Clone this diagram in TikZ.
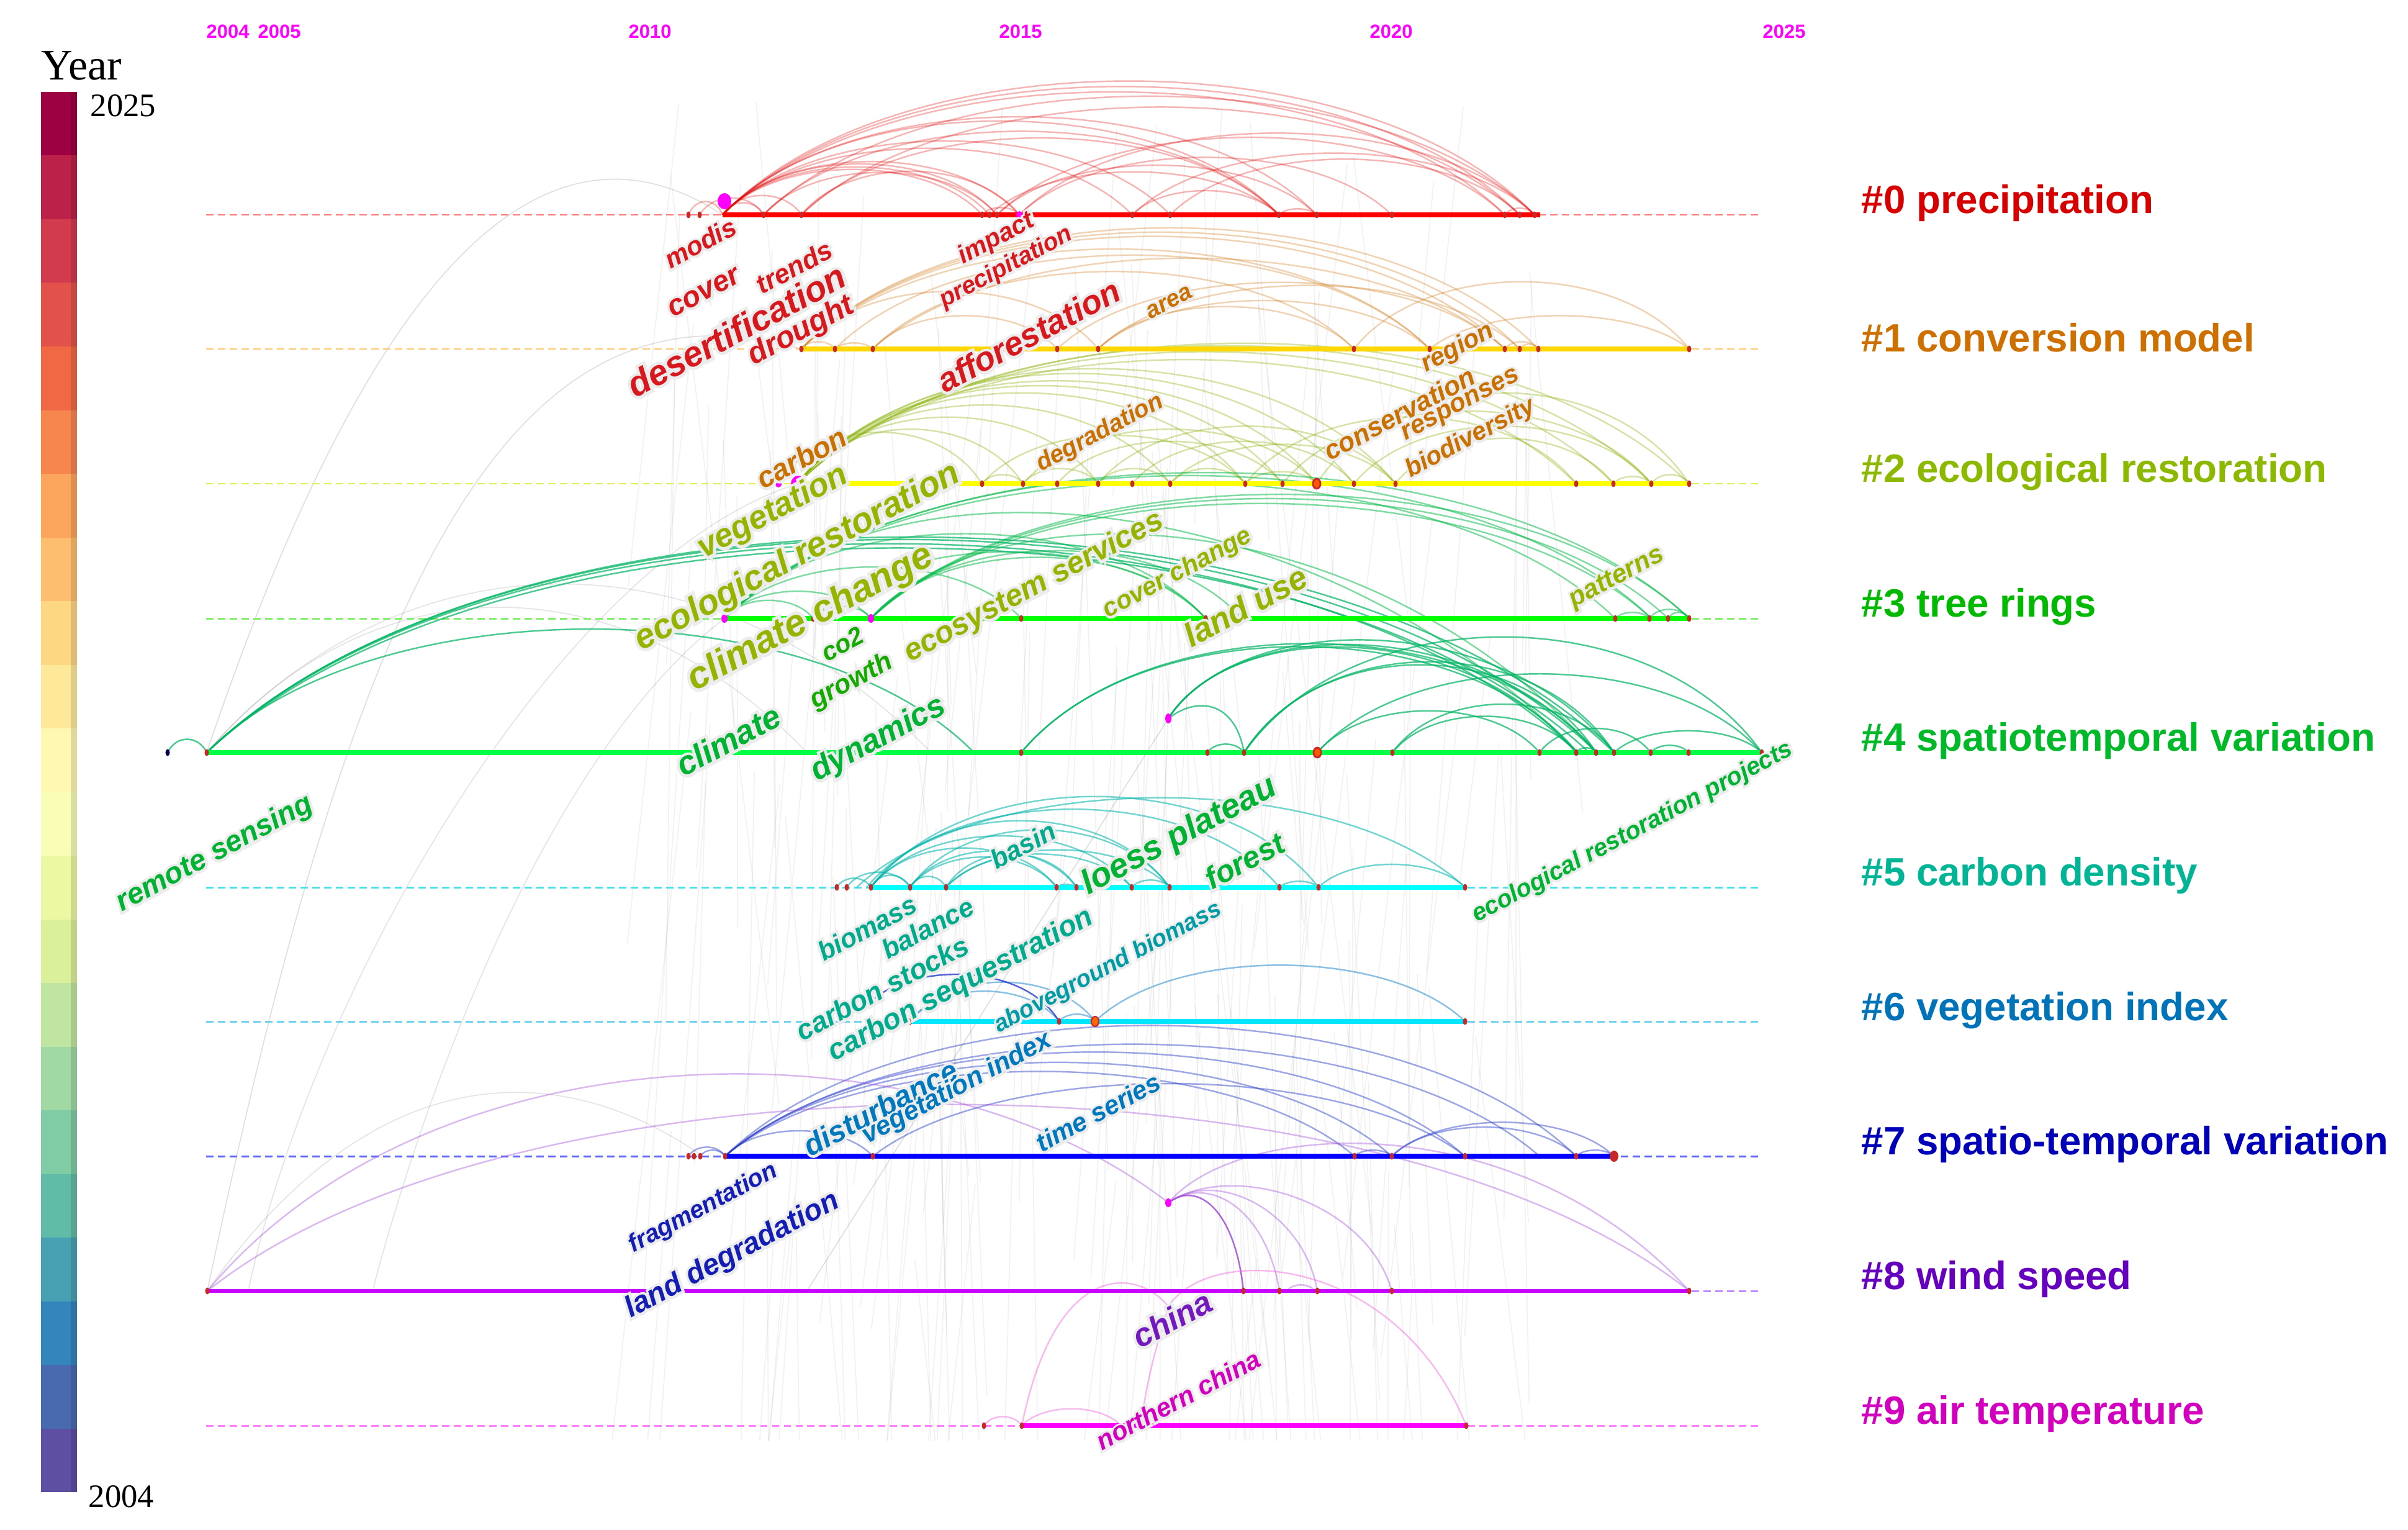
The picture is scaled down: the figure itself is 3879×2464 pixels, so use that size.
\documentclass[tikz,border=0pt]{standalone}
\usepackage{fontspec}
\setmainfont{Liberation Sans}
\newfontfamily\tnr{Liberation Serif}
\newfontfamily\halofam{Liberation Sans}[FakeBold=18]
\definecolor{halo}{RGB}{236,236,236}
\definecolor{kw0}{RGB}{215,25,30}
\definecolor{kw1}{RGB}{200,112,0}
\definecolor{kw2}{RGB}{148,180,0}
\definecolor{kw3}{RGB}{20,170,0}
\definecolor{kw4}{RGB}{0,178,50}
\definecolor{kw5}{RGB}{0,170,140}
\definecolor{kw5b}{RGB}{0,155,165}
\definecolor{kw6}{RGB}{0,120,190}
\definecolor{kw7}{RGB}{20,30,180}
\definecolor{kw8}{RGB}{115,25,190}
\definecolor{kw9}{RGB}{210,0,190}
\definecolor{cl0}{RGB}{215,0,0}
\definecolor{cl1}{RGB}{205,112,0}
\definecolor{cl2}{RGB}{140,185,0}
\definecolor{cl3}{RGB}{0,185,0}
\definecolor{cl4}{RGB}{0,185,40}
\definecolor{cl5}{RGB}{0,180,150}
\definecolor{cl6}{RGB}{0,115,185}
\definecolor{cl7}{RGB}{0,0,185}
\definecolor{cl8}{RGB}{100,0,190}
\definecolor{cl9}{RGB}{210,0,190}
\definecolor{ln0}{RGB}{255,0,0}
\definecolor{ln1}{RGB}{255,215,0}
\definecolor{ln2}{RGB}{255,255,0}
\definecolor{ln3}{RGB}{0,255,0}
\definecolor{ln4}{RGB}{0,255,70}
\definecolor{ln5}{RGB}{0,255,255}
\definecolor{ln6}{RGB}{0,230,255}
\definecolor{ln7}{RGB}{0,0,255}
\definecolor{ln8}{RGB}{200,0,255}
\definecolor{ln9}{RGB}{255,0,255}
\definecolor{ds0}{RGB}{255,120,120}
\definecolor{ds1}{RGB}{255,200,110}
\definecolor{ds2}{RGB}{225,240,90}
\definecolor{ds3}{RGB}{130,240,110}
\definecolor{ds4}{RGB}{110,240,150}
\definecolor{ds5}{RGB}{70,225,235}
\definecolor{ds6}{RGB}{110,210,240}
\definecolor{ds7}{RGB}{90,100,255}
\definecolor{ds8}{RGB}{190,140,255}
\definecolor{ds9}{RGB}{255,130,255}
\definecolor{ar0}{RGB}{225,10,10}
\definecolor{ar1}{RGB}{210,130,40}
\definecolor{ar2}{RGB}{135,175,0}
\definecolor{ar3}{RGB}{0,185,70}
\definecolor{ar4}{RGB}{0,180,100}
\definecolor{ar5}{RGB}{0,180,170}
\definecolor{ar6}{RGB}{60,150,210}
\definecolor{ar7}{RGB}{40,60,200}
\definecolor{ar8}{RGB}{160,80,215}
\definecolor{ar9}{RGB}{240,100,220}
\definecolor{yearmag}{RGB}{255,0,255}
\definecolor{dotred}{RGB}{200,40,40}
\definecolor{cb0}{RGB}{94,79,162}
\definecolor{cb1}{RGB}{73,106,175}
\definecolor{cb2}{RGB}{52,133,188}
\definecolor{cb3}{RGB}{72,161,179}
\definecolor{cb4}{RGB}{97,188,167}
\definecolor{cb5}{RGB}{128,204,165}
\definecolor{cb6}{RGB}{161,217,164}
\definecolor{cb7}{RGB}{191,229,160}
\definecolor{cb8}{RGB}{219,240,154}
\definecolor{cb9}{RGB}{237,248,163}
\definecolor{cb10}{RGB}{249,253,182}
\definecolor{cb11}{RGB}{255,248,179}
\definecolor{cb12}{RGB}{254,233,154}
\definecolor{cb13}{RGB}{254,215,131}
\definecolor{cb14}{RGB}{253,191,111}
\definecolor{cb15}{RGB}{252,165,93}
\definecolor{cb16}{RGB}{247,134,78}
\definecolor{cb17}{RGB}{241,105,68}
\definecolor{cb18}{RGB}{226,82,74}
\definecolor{cb19}{RGB}{210,59,78}
\definecolor{cb20}{RGB}{187,33,73}
\definecolor{cb21}{RGB}{158,1,66}

\newcommand\halo[1]{\leavevmode\rlap{\halofam\textcolor{halo}{#1}}#1}
\newcommand\kw[6]{\node[kwn, text=#5, font=\bfseries\itshape\fontsize{#4}{#4}\selectfont] (#1) at (#2,#3) {\halo{#6}};}
\newcommand\tlarcs[3]{%
  \foreach \a/\b/\h in {#3}{%
    \pgfmathsetmacro\ca{\a+0.21*(\b-\a)}%
    \pgfmathsetmacro\cb{\b-0.21*(\b-\a)}%
    \pgfmathsetmacro\ch{#1-1.3*\h}%
    \draw[#2] (\a,#1) .. controls (\ca,\ch) and (\cb,\ch) .. (\b,#1);
  }}
\newcommand\tldots[2]{\foreach \x in {#2}{\fill[dotred] (\x,#1) ellipse (3.5 and 5.5);}}

\tikzset{
 bgl/.style={draw=black, opacity=0.05, line width=0.5pt},
 dashln/.style={line width=0.85pt, dash pattern=on 3.4pt off 2pt},
 tl/.style={line width=2.3pt},
 arc0/.style={draw=ar0, opacity=0.3, line width=0.7pt},
 arc1/.style={draw=ar1, opacity=0.35, line width=0.7pt},
 arc2/.style={draw=ar2, opacity=0.35, line width=0.7pt},
 arc3/.style={draw=ar3, opacity=0.5, line width=0.7pt},
 arc4/.style={draw=ar4, opacity=0.7, line width=0.7pt},
 arc5/.style={draw=ar5, opacity=0.55, line width=0.7pt},
 arc6/.style={draw=ar6, opacity=0.6, line width=0.7pt},
 arc7/.style={draw=ar7, opacity=0.45, line width=0.7pt},
 arc8/.style={draw=ar8, opacity=0.4, line width=0.7pt},
 arc9/.style={draw=ar9, opacity=0.45, line width=0.7pt},
 kwn/.style={rotate=28, inner sep=0pt, anchor=center},
 clab/.style={anchor=west, inner sep=0pt, font=\bfseries\fontsize{18.1}{20}\selectfont},
 yr/.style={anchor=west, inner sep=0pt, text=yearmag, font=\bfseries\fontsize{8.8}{10}\selectfont},
}

\begin{document}
\begin{tikzpicture}[x=0.01cm,y=-0.01cm]
\useasboundingbox (0,0) rectangle (3879,2464);
\fill[white] (0,0) rectangle (3879,2464);

% faint background links
\pgfmathsetseed{11}
\foreach \i in {1,...,170}{
 \pgfmathsetmacro\xa{1080+1400*rnd}
 \pgfmathsetmacro\ya{160+1900*rnd}
 \pgfmathsetmacro\yb{min(\ya+400+1200*rnd,2320)}
 \pgfmathsetmacro\xb{\xa+(rnd-0.5)*0.25*(\yb-\ya)}
 \draw[bgl] (\xa,\ya) -- (\xb,\yb);
}
\draw[bgl, opacity=0.12] (333,1212) .. controls (600,420) and (880,160) .. (1164,346);
\draw[bgl, opacity=0.12] (334,2079) .. controls (560,1000) and (800,420) .. (1291,562);
\draw[bgl, opacity=0.1] (333,1212) .. controls (600,900) and (1000,900) .. (1300,1212);
\draw[bgl, opacity=0.1] (333,1212) .. controls (650,850) and (1150,850) .. (1500,1212);
\draw[bgl, opacity=0.1] (334,2079) .. controls (600,1700) and (900,1700) .. (1132,1862);
\draw[bgl, opacity=0.1] (1285,779) .. controls (900,900) and (500,1600) .. (400,2079);
\draw[bgl, opacity=0.1] (1167,996) .. controls (900,1200) and (700,1700) .. (600,2079);
\draw[bgl, opacity=0.12] (1882,1157) -- (1300,2079);

% dashed guide lines
\foreach \k/\yy in {0/346,1/562,2/779,3/996,4/1212,5/1429,6/1645,7/1862,8/2079,9/2296}{
 \draw[dashln, draw=ds\k] (332,\yy) -- (2838,\yy);
}

% arcs
\tlarcs{346}{arc0}{1164/2472/221, 1164/2448/212, 1164/2424/203, 1230/2472/196, 1291/2448/178, 1164/2121/162, 1164/2060/155, 1230/2060/138, 1291/2060/127, 1164/1885/122, 1164/1824/110, 1164/1606/84, 1164/1594/79, 1164/1582/75, 1230/1606/70, 1291/1642/72, 1594/2060/71, 1606/2121/82, 1642/2472/135, 1606/2424/128, 1642/2242/95, 1824/2472/102, 1885/2448/92, 1109/1164/22, 1127/1230/28, 1164/1291/32, 1164/1230/20, 2060/2121/10, 2424/2472/11, 1582/1642/12, 1164/1642/88, 1824/2060/40}
\tlarcs{562}{arc1}{1291/2478/200, 1291/2448/193, 1291/2424/186, 1291/2303/165, 1345/2303/155, 1406/2181/128, 1406/2424/150, 1703/2424/110, 1769/2303/80, 1769/2448/105, 1769/2181/70, 2181/2721/111, 2303/2721/55, 1291/1345/12, 1345/1406/10, 2424/2478/12, 2448/2478/8, 1291/1769/95, 1406/1703/55}
\tlarcs{779}{arc2}{1285/2721/232, 1285/2660/228, 1285/2599/218, 1285/2539/205, 1285/2248/190, 1285/2181/182, 1285/2121/170, 1285/2066/162, 1285/2006/150, 1285/1885/130, 1285/1769/110, 1285/1648/90, 1254/1582/85, 1582/2006/80, 1648/2121/90, 1703/2066/70, 1769/2248/95, 1824/2181/70, 1885/2248/65, 2006/2539/110, 2066/2660/120, 2121/2721/150, 2248/2599/75, 2181/2660/95, 1582/1648/15, 1648/1769/25, 1769/1885/25, 1885/2006/25, 2599/2660/12, 2660/2721/15, 2006/2121/20}
\tlarcs{996}{arc3}{1167/2721/241, 1167/2660/236, 1167/2602/225, 1403/2721/205, 1403/2687/198, 1403/2660/190, 1167/1942/140, 1167/1645/85, 1403/1942/101, 1403/2000/112, 1310/1942/110, 1167/1403/45, 1167/1310/30, 1310/1403/20, 2602/2657/10, 2657/2721/15, 2687/2721/10}
\draw[arc3] (1167,996) .. controls (1450,700) and (2150,800) .. (2541,1212);
\draw[arc3] (1403,996) .. controls (1600,780) and (2200,800) .. (2572,1212);
\tlarcs{1212}{arc4}{333/2572/352, 333/2541/345, 333/2600/356, 333/2560/338, 270/333/22, 333/1569/204, 1645/2541/175, 1645/2572/180, 2004/2838/191, 2122/2838/130, 1945/2004/14, 2004/2571/145, 2004/2600/150, 2122/2480/69, 2243/2600/80, 2539/2571/8, 2600/2838/36, 2659/2720/12, 2480/2659/40, 2243/2539/60}
\draw[arc4] (1882,1157) .. controls (1980,1000) and (2350,990) .. (2539,1212);
\draw[arc4] (1882,1157) .. controls (1990,990) and (2380,990) .. (2571,1212);
\draw[arc4] (1882,1157) .. controls (2000,980) and (2420,980) .. (2600,1212);
\draw[arc4] (1882,1157) .. controls (1930,1120) and (1990,1130) .. (2004,1212);
\tlarcs{1429}{arc5}{1403/2124/150, 1380/2360/148, 1396/2061/129, 1403/1884/110, 1466/1884/95, 1403/1823/85, 1466/1734/60, 1524/1734/55, 1466/1702/50, 1524/1823/55, 1524/1884/62, 1403/1702/65, 2124/2360/38, 2061/2124/10, 1348/1403/15, 1364/1466/25, 1403/1466/20, 1466/1524/18, 1702/1734/5, 1823/1884/12}
\tlarcs{1645}{arc6}{1764/2360/93, 1466/1706/50, 1466/1764/65, 1706/1764/12}
\draw[arc6, draw=ar7, opacity=0.8] (1403,1613) .. controls (1470,1550) and (1650,1550) .. (1706,1645);
\tlarcs{1862}{arc7}{1168/2539/216, 1168/2480/185, 1168/2360/172, 1168/2242/155, 1168/2182/140, 1168/1406/42, 1109/1168/15, 1128/1168/10, 2182/2242/10, 2242/2600/56, 2242/2539/48, 2539/2600/10, 1406/2360/120}
\draw[arc8] (334,2079) .. controls (700,1640) and (1500,1640) .. (1882,1937);
\tlarcs{2079}{arc8}{334/2721/308, 2073/2118/10}
\draw[arc8, opacity=0.85] (1882,1937) .. controls (1930,1900) and (1990,1950) .. (2003,2079);
\draw[arc8] (1882,1937) .. controls (1950,1890) and (2040,1950) .. (2061,2079);
\draw[arc8] (1882,1937) .. controls (1960,1880) and (2100,1950) .. (2122,2079);
\draw[arc8] (1882,1937) .. controls (1980,1870) and (2200,1930) .. (2242,2079);
\draw[arc8] (1882,1937) .. controls (2000,1800) and (2450,1780) .. (2721,2079);
\tlarcs{2296}{arc9}{1585/1646/15, 1646/1806/28}
\draw[arc9] (1646,2296) .. controls (1700,2030) and (1830,2040) .. (1882,2104);
\draw[arc9] (1838,2296) .. controls (1850,2200) and (1870,2150) .. (1882,2104);
\draw[arc9] (1882,2104) .. controls (1950,2000) and (2250,2020) .. (2362,2296);

% timelines
\draw[tl, ln0] (1164,346) -- (2481,346);
\draw[tl, ln1] (1291,562) -- (2721,562);
\draw[tl, ln2] (1285,779) -- (2721,779);
\draw[tl, ln3] (1167,996) -- (2721,996);
\draw[tl, ln4] (333,1212) -- (2838,1212);
\draw[tl, ln5] (1403,1429) -- (2360,1429);
\draw[tl, ln6] (1466,1645) -- (2360,1645);
\draw[tl, ln7] (1168,1862) -- (2600,1862);
\draw[tl, ln8, line width=1.8pt] (334,2079) -- (2721,2079);
\draw[tl, ln9] (1646,2296) -- (2362,2296);

% node dots
\tldots{346}{1109, 1127, 1230, 1291, 1582, 1594, 1606, 1824, 1885, 2060, 2121, 2242, 2424, 2448, 2472}
\tldots{562}{1291, 1345, 1406, 1703, 1769, 2181, 2303, 2424, 2448, 2478, 2721}
\tldots{779}{1582, 1648, 1703, 1769, 1824, 1885, 2006, 2066, 2181, 2248, 2539, 2599, 2660, 2721}
\tldots{996}{1310, 1645, 1942, 2602, 2657, 2687, 2721}
\tldots{1212}{333, 1645, 1945, 2004, 2243, 2480, 2539, 2571, 2600, 2659, 2720, 2838}
\tldots{1429}{1348, 1364, 1403, 1466, 1524, 1702, 1734, 1823, 1884, 2061, 2124, 2360}
\tldots{1645}{1466, 1706, 2360}
\tldots{1862}{1109, 1118, 1128, 1168, 1406, 2182, 2242, 2360, 2539}
\tldots{2079}{334, 2003, 2061, 2122, 2242, 2721}
\tldots{2296}{1585, 1646, 1838, 2362}
\fill[black!70!blue] (270,1212) ellipse (3.5 and 5.5);
\fill[yearmag] (1167,324) ellipse (11 and 13);
\fill[yearmag] (1286,779) ellipse (12 and 13);
\fill[yearmag] (1254,779) ellipse (5 and 6);
\fill[yearmag] (1642,346) ellipse (5 and 6);
\fill[yearmag] (1167,996) ellipse (5 and 7);
\fill[yearmag] (1403,996) ellipse (5 and 7);
\fill[yearmag] (1882,1157) ellipse (5 and 8);
\fill[yearmag] (1403,1613) ellipse (4 and 6);
\fill[yearmag] (1882,1937) ellipse (5 and 7);
\filldraw[fill=orange!70!red, draw=dotred, line width=0.8pt] (2121,779) ellipse (6 and 8);
\filldraw[fill=orange!70!red, draw=dotred, line width=0.8pt] (2122,1212) ellipse (6 and 8);
\filldraw[fill=orange!80!red, draw=dotred, line width=0.6pt] (1764,1645) ellipse (6 and 8);
\fill[dotred] (2600,1862) ellipse (7 and 9);

% keyword labels
\kw{k1}{1128}{391}{12.0}{kw0}{modis}
\kw{k2}{1134}{471}{13.4}{kw0}{cover}
\kw{k3}{1279}{430}{12.3}{kw0}{trends}
\kw{k4}{1186}{532}{16.2}{kw0}{desertification}
\kw{k5}{1291}{534}{14.0}{kw0}{drought}
\kw{k6}{1605}{385}{11.7}{kw0}{impact}
\kw{k7}{1621}{431}{11.2}{kw0}{precipitation}
\kw{k8}{1657}{540}{15.3}{kw0}{afforestation}
\kw{k9}{1884}{487}{10.9}{kw1}{area}
\kw{k10}{2348}{561}{11.7}{kw1}{region}
\kw{k11}{2254}{666}{12.3}{kw1}{conservation}
\kw{k12}{2354}{654}{11.9}{kw1}{responses}
\kw{k13}{2369}{706}{11.6}{kw1}{biodiversity}
\kw{k14}{1291}{737}{13.4}{kw1}{carbon}
\kw{k15}{1772}{698}{11.2}{kw1}{degradation}
\kw{k16}{1245}{825}{15.1}{kw2}{vegetation}
\kw{k17}{1285}{898}{16.0}{kw2}{ecological restoration}
\kw{k18}{1306}{996}{17.3}{kw2}{climate change}
\kw{k19}{2006}{976}{15.2}{kw2}{land use}
\kw{k20}{1897}{924}{11.7}{kw2}{cover change}
\kw{k21}{2605}{931}{12.0}{kw2}{patterns}
\kw{k22}{1666}{946}{14.0}{kw2}{ecosystem services}
\kw{k23}{1357}{1037}{11.7}{kw3}{co2}
\kw{k24}{1372}{1098}{12.3}{kw3}{growth}
\kw{k25}{1173}{1192}{15.1}{kw4}{climate}
\kw{k26}{1415}{1191}{14.7}{kw4}{dynamics}
\kw{k27}{346}{1375}{13.5}{kw4}{remote sensing}
\kw{k28}{2630}{1341}{11.3}{kw4}{ecological restoration projects}
\kw{k29}{1900}{1347}{15.6}{kw4}{loess plateau}
\kw{k30}{2005}{1386}{14.0}{kw4}{forest}
\kw{k31}{1648}{1361}{12.2}{kw5}{basin}
\kw{k32}{1397}{1494}{12.2}{kw5}{biomass}
\kw{k33}{1494}{1494}{12.3}{kw5}{balance}
\kw{k34}{1421}{1591}{12.9}{kw5}{carbon stocks}
\kw{k35}{1548}{1587}{13.3}{kw5}{carbon sequestration}
\kw{k36}{1785}{1559}{10.9}{kw5b}{aboveground biomass}
\kw{k37}{1418}{1784}{13.7}{kw6}{disturbance}
\kw{k38}{1542}{1753}{12.2}{kw6}{vegetation index}
\kw{k39}{1769}{1791}{12.0}{kw6}{time series}
\kw{k40}{1133}{1946}{11.3}{kw7}{fragmentation}
\kw{k41}{1180}{2022}{13.5}{kw7}{land degradation}
\kw{k42}{1888}{2124}{14.9}{kw8}{china}
\kw{k43}{1898}{2254}{11.9}{kw9}{northern china}

% cluster labels
\node[clab, text=cl0] (c0) at (2998,327) {\#0 precipitation};
\node[clab, text=cl1] (c1) at (2998,544) {\#1 conversion model};
\node[clab, text=cl2] (c2) at (2998,760) {\#2 ecological restoration};
\node[clab, text=cl3] (c3) at (2998,977) {\#3 tree rings};
\node[clab, text=cl4] (c4) at (2998,1193) {\#4 spatiotemporal variation};
\node[clab, text=cl5] (c5) at (2998,1410) {\#5 carbon density};
\node[clab, text=cl6] (c6) at (2998,1627) {\#6 vegetation index};
\node[clab, text=cl7] (c7) at (2998,1843) {\#7 spatio-temporal variation};
\node[clab, text=cl8] (c8) at (2998,2060) {\#8 wind speed};
\node[clab, text=cl9] (c9) at (2998,2277) {\#9 air temperature};

% year axis
\node[yr] (y2004) at (332,51) {2004};
\node[yr] (y2005) at (415,51) {2005};
\node[yr] (y2010) at (1012,51) {2010};
\node[yr] (y2015) at (1609,51) {2015};
\node[yr] (y2020) at (2206,51) {2020};
\node[yr] (y2025) at (2839,51) {2025};

% colour bar
\foreach \i in {0,...,21}{
 \fill[fill=cb\i] (66,{2403-(\i+1)*102.5}) rectangle (124,{2403-\i*102.5});
}
\fill[black, opacity=0.12] (114,148) rectangle (124,2403);
\node[anchor=base west, inner sep=0pt, font=\tnr\fontsize{20}{22}\selectfont] (yearlab) at (66,129) {Year};
\node[anchor=base west, inner sep=0pt, font=\tnr\fontsize{15}{16}\selectfont] (cbtop) at (145,188) {2025};
\node[anchor=base west, inner sep=0pt, font=\tnr\fontsize{15}{16}\selectfont] (cbbot) at (142,2427) {2004};
\end{tikzpicture}
\end{document}
